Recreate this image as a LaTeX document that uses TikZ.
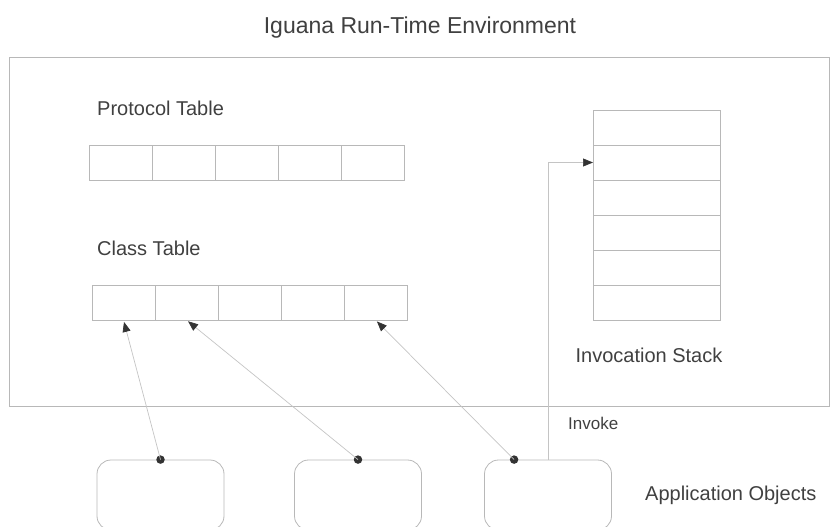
\documentclass[tikz,border=0pt]{standalone}
\usepackage{fontspec}
\setmainfont{Liberation Sans}
\usetikzlibrary{calc,arrows.meta,positioning}
\definecolor{linegray}{HTML}{B8B8B8}
\definecolor{conngray}{HTML}{C4C4C4}
\definecolor{textgray}{HTML}{404040}
\definecolor{headgray}{HTML}{333333}

\begin{document}
\begin{tikzpicture}[x=1pt, y=-1pt, auto,
    cell/.style={draw=linegray, line width=0.8pt, minimum width=63pt, minimum height=35pt, inner sep=0pt, outer sep=0pt},
    slot/.style={draw=linegray, line width=0.8pt, minimum width=127pt, minimum height=35pt, inner sep=0pt, outer sep=0pt},
    object/.style={draw=linegray, line width=0.8pt, rounded corners=14pt, minimum width=127pt, minimum height=70pt, inner sep=0pt},
    dot/.style={circle, fill=headgray, inner sep=0pt, minimum size=8.5pt},
    caption/.style={text=textgray, font=\fontsize{20}{24}\selectfont, inner sep=0pt, anchor=base west},
    conn/.style={draw=conngray, line width=0.7pt, -{Triangle[length=10pt,width=8pt,color=headgray]}}]
					\useasboundingbox (0,0) rectangle (831,527);
					\node[text=textgray, font=\fontsize{23}{27}\selectfont, inner sep=0pt, anchor=base] (title) at (420,34) {Iguana Run-Time Environment};
					\draw[linegray, line width=0.8pt] (9,57) rectangle (829,406);

					% tables
					\node[caption] (ptab) at (97,115) {Protocol Table};
					\foreach \i in {0,...,4}
						\node[cell] (p\i) at ({120.5+63*\i},162.5) {};
					\node[caption] (ctab) at (97,255) {Class Table};
					\foreach \i in {0,...,4}
						\node[cell] (c\i) at ({123.5+63*\i},302.5) {};

					% stack
					\foreach \i in {0,...,5}
						\node[slot] (s\i) at (656.5,{127.5+35*\i}) {};
					\node[caption, anchor=base] (stack) at (649,362) {Invocation Stack};

					% objects
					\node[object] (obj1) at (160.5,495) {};
					\node[object] (obj2) at (358,495) {};
					\node[object] (obj3) at (548,495) {};
					\node[caption] (apps) at (645,500) {Application Objects};
					\node[dot] (d1) at (obj1.north) {};
					\node[dot] (d2) at (obj2.north) {};
					\node[dot] (d3) at ($(obj3.north west)+(30,0)$) {};

					\path
						(d1.center) edge[conn, shorten >=2pt] (c0.south)
						(d2.center) edge[conn, shorten >=2pt] (c1.south)
						(d3.center) edge[conn, shorten >=2pt] (c4.south)
					;
					\draw [conn] (obj3.north) |- (s1.west);
					\node[caption, font=\fontsize{17}{20}\selectfont] (invoke) at (568,429) {Invoke};
                \end{tikzpicture}
\end{document}
